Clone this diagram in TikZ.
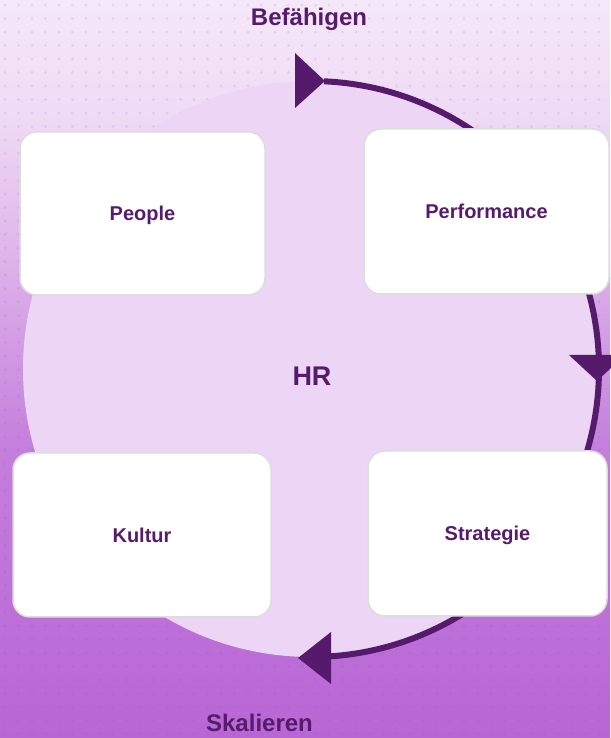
\documentclass[tikz,border=0pt]{standalone}
\usepackage{fontspec}
\setmainfont{Liberation Sans}
\definecolor{bgA}{HTML}{F5E8F9}
\definecolor{bgB}{HTML}{EFDAF5}
\definecolor{bgC}{HTML}{DBADE8}
\definecolor{bgD}{HTML}{C47EDC}
\definecolor{bgE}{HTML}{B866D5}
\definecolor{dotc}{HTML}{9A4DBB}
\definecolor{circc}{HTML}{ECD5F5}
\definecolor{arcc}{HTML}{561A6C}
\definecolor{txt}{HTML}{561C6B}
\definecolor{cardline}{HTML}{DDDDDD}
\tikzset{
  card/.style={draw=cardline, line width=1.5pt, fill=white, rounded corners=17pt,
    text=txt, font=\bfseries\fontsize{20}{24}\selectfont,
    text height=14.5pt, text depth=0pt, inner sep=0pt},
  titletext/.style={text=txt, font=\bfseries\fontsize{24}{28}\selectfont, inner sep=0pt, anchor=base},
  centertext/.style={text=txt, font=\bfseries\fontsize{27}{30}\selectfont, inner sep=0pt, anchor=base},
  cyclearc/.style={draw=arcc, line width=6pt},
  cyclehead/.style={fill=arcc}
}
\begin{document}
\begin{tikzpicture}[x=1pt,y=1pt]
\useasboundingbox (0,0) rectangle (610,738);
% background
\shade[top color=bgA, bottom color=bgB] (0,738) rectangle (610,617.5);
\shade[top color=bgB, bottom color=bgC] (0,618) rectangle (610,457.5);
\shade[top color=bgC, bottom color=bgD] (0,458) rectangle (610,287.5);
\shade[top color=bgD, bottom color=bgE] (0,288) rectangle (610,0);
\fill[dotc, opacity=0.13] \foreach \i in {0,...,45} { \foreach \j in {0,...,55} { (\i*13.5+5, \j*13.5+4) circle (1.6) } };
% circle
\coordinate (c) at (311,369);
\fill[circc] (c) circle (288);
% cycle arc
\draw[cyclearc] (c) ++(87.4:288) arc[start angle=87.4, end angle=-86.5, radius=288];
\fill[cyclehead] (325,657) -- (295,685) -- (295,630) -- cycle;
\fill[cyclehead] (597,357) -- (569,383) -- (625,383) -- cycle;
\fill[cyclehead] (298,80) -- (331,106) -- (331,54) -- cycle;
% cards
\node[card, minimum width=245pt, minimum height=163pt] (people) at (142.5,524.5) {People};
\node[card, minimum width=245pt, minimum height=165pt] (perf) at (486.5,526.5) {Performance};
\node[card, minimum width=258pt, minimum height=164pt] (kultur) at (142,203) {Kultur};
\node[card, minimum width=239pt, minimum height=165pt] (strat) at (487.5,204.5) {Strategie};
% texts
\node[centertext] (hr) at (312,352) {HR};
\node[titletext] (bef) at (309,712) {Befähigen};
\node[titletext] (skal) at (259.5,6) {Skalieren};
\end{tikzpicture}
\end{document}
